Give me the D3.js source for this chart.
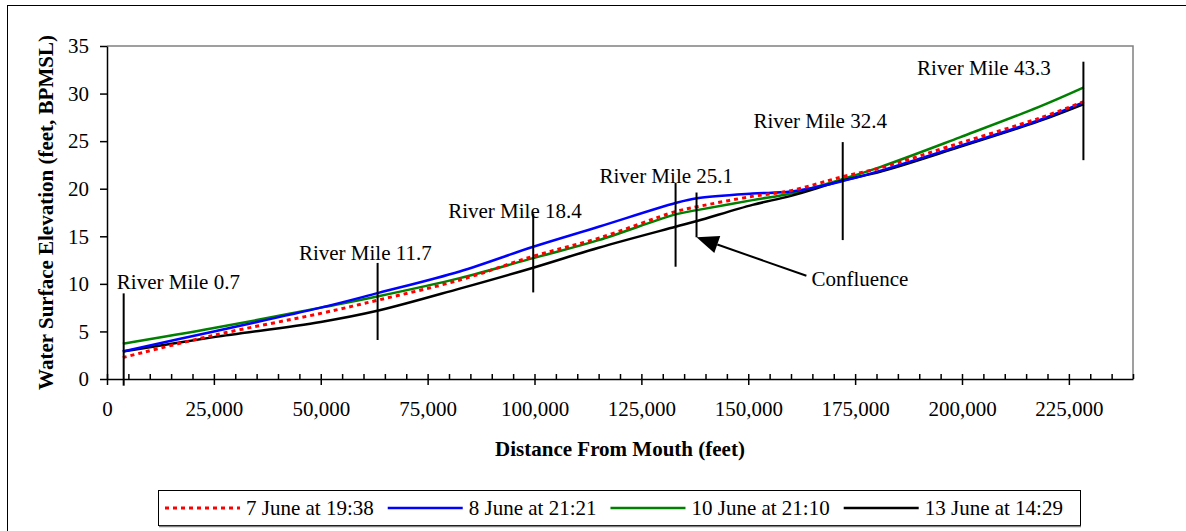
<!DOCTYPE html>
<html>
<head>
<meta charset="utf-8">
<script src="https://cdn.jsdelivr.net/npm/d3@7"></script>
<style>
  html, body { margin: 0; padding: 0; background: #fff; }
  svg { display: block; font-family: 'Liberation Serif', 'Times New Roman', serif; }
</style>
</head>
<body>
<div id="chart"></div>
<script>
// distance from mouth (feet) where the profiles were sampled
const distances = [3700, 25000, 50000, 63500, 82500, 99700, 115000, 133000, 138000, 151000, 160000, 172000, 181000, 199500, 218000, 228500];

const june7 = [2.25, 4.6, 6.9, 8.3, 10.4, 12.9, 14.8, 17.6, 18.1, 19.2, 19.8, 21.25, 22.2, 24.8, 27.4, 29.15];
const june8 = [2.9, 5.0, 7.5, 9.05, 11.3, 13.9, 16.0, 18.5, 19.0, 19.5, 19.7, 20.8, 21.9, 24.5, 27.2, 29.1];
const june10 = [3.7, 5.35, 7.5, 8.7, 10.6, 12.7, 14.6, 17.3, 17.75, 18.8, 19.5, 21.0, 22.3, 25.4, 28.6, 30.65];
const june13 = [2.9, 4.4, 6.0, 7.2, 9.5, 11.7, 13.8, 16.0, 16.6, 18.3, 19.25, 20.85, 21.8, 24.4, 27.1, 28.9];

const seriesNames = ['7 June at 19:38', '8 June at 21:21', '10 June at 21:10', '13 June at 14:29'];
const seriesValues = [june7, june8, june10, june13];
const seriesColors = ['#ff0000', '#0000ff', '#008000', '#000000'];

const xTicks = [0, 25000, 50000, 75000, 100000, 125000, 150000, 175000, 200000, 225000];
const yTicks = [0, 5, 10, 15, 20, 25, 30, 35];

// river mile marker lines: x, top, bottom (feet / elevation)
const markerLabels = ['River Mile 0.7', 'River Mile 11.7', 'River Mile 18.4', 'River Mile 25.1', 'River Mile 32.4', 'River Mile 43.3'];
const markerX = [3900, 63300, 99700, 133000, 172100, 228400];
const markerTop = [9.0, 12.2, 17.4, 20.6, 24.9, 33.35];
const markerBottom = [-0.7, 4.1, 9.1, 11.8, 14.6, 23.0];
const labelX = [2300, 44900, 79800, 115200, 151200, 189500];
const labelY = [9.45, 12.5, 16.95, 20.65, 26.35, 31.9];

// confluence annotation
const confluenceLine = [137900, 19.6, 14.9];
const confluenceArrowFrom = [163600, 10.85];
const confluenceText = [164800, 9.75];

const width = 1186, height = 531;
const margin = { top: 46, right: 53, bottom: 152, left: 107 };

const svg = d3.select('#chart').append('svg')
  .attr('width', width)
  .attr('height', height);

// outer frame (only top and left edges show in the crop)
svg.append('rect')
  .attr('x', 7.5).attr('y', 5.5)
  .attr('width', 1300).attr('height', 700)
  .attr('fill', 'none').attr('stroke', '#000').attr('stroke-width', 1);

const x = d3.scaleLinear().domain([0, 240000]).range([margin.left, width - margin.right]);
const y = d3.scaleLinear().domain([0, 35]).range([height - margin.bottom, margin.top]);

// plot area border (top/right gray)
svg.append('path')
  .attr('d', `M${x(0)},${y(35)}H${x(240000)}V${y(0)}`)
  .attr('fill', 'none').attr('stroke', '#808080').attr('stroke-width', 1.5);

// x axis: major ticks + minor ticks pointing inward
const gxMinor = svg.append('g')
  .attr('transform', `translate(0,${y(0)})`)
  .call(d3.axisBottom(x).tickValues(d3.range(0, 240001, 5000)).tickSizeInner(-5).tickSizeOuter(0).tickFormat(''));
gxMinor.select('.domain').remove();

const gx = svg.append('g')
  .attr('transform', `translate(0,${y(0)})`)
  .call(d3.axisBottom(x).tickValues(xTicks).tickSizeInner(6).tickSizeOuter(0).tickPadding(16).tickFormat(d3.format(',')));

const gy = svg.append('g')
  .attr('transform', `translate(${x(0)},0)`)
  .call(d3.axisLeft(y).tickValues(yTicks).tickSizeInner(7).tickSizeOuter(0).tickPadding(11));

[gx, gy, gxMinor].forEach(g => {
  g.selectAll('line').attr('stroke', '#000').attr('stroke-width', 1.5);
  g.selectAll('.domain').attr('stroke', '#000').attr('stroke-width', 1.5);
  g.selectAll('text').attr('font-family', 'Liberation Serif, serif').attr('font-size', 21).attr('fill', '#000');
});

// axis titles
svg.append('text')
  .attr('x', x(120000)).attr('y', 456)
  .attr('text-anchor', 'middle')
  .attr('font-size', 21).attr('font-weight', 'bold')
  .text('Distance From Mouth (feet)');

svg.append('text')
  .attr('transform', `translate(53,${y(17.5)}) rotate(-90)`)
  .attr('text-anchor', 'middle')
  .attr('font-size', 21).attr('font-weight', 'bold')
  .text('Water Surface Elevation (feet, BPMSL)');

// profiles
const line = d3.line()
  .x((d, i) => x(distances[i]))
  .y(d => y(d))
  .curve(d3.curveCatmullRom.alpha(0.5));

// draw order: green, black, blue, red on top
[2, 3, 1, 0].forEach(k => {
  svg.append('path')
    .datum(seriesValues[k])
    .attr('d', line)
    .attr('fill', 'none')
    .attr('stroke', seriesColors[k])
    .attr('stroke-width', k === 0 ? 3 : 2.5)
    .attr('stroke-dasharray', k === 0 ? '4,4' : null);
});

// river mile markers
const markers = svg.append('g');
markerX.forEach((mx, i) => {
  markers.append('line')
    .attr('x1', x(mx)).attr('x2', x(mx))
    .attr('y1', y(markerTop[i])).attr('y2', y(markerBottom[i]))
    .attr('stroke', '#000').attr('stroke-width', 2);
  markers.append('text')
    .attr('x', x(labelX[i])).attr('y', y(labelY[i]))
    .attr('font-size', 21)
    .text(markerLabels[i]);
});

// confluence
svg.append('line')
  .attr('x1', x(confluenceLine[0])).attr('x2', x(confluenceLine[0]))
  .attr('y1', y(confluenceLine[1])).attr('y2', y(confluenceLine[2]))
  .attr('stroke', '#000').attr('stroke-width', 2);

const tipX = x(confluenceLine[0]), tipY = y(confluenceLine[2]);
const fromX = x(confluenceArrowFrom[0]), fromY = y(confluenceArrowFrom[1]);
const ang = Math.atan2(fromY - tipY, fromX - tipX);
const headLen = 22, headHalf = 9;
const baseX = tipX + headLen * Math.cos(ang), baseY = tipY + headLen * Math.sin(ang);
svg.append('line')
  .attr('x1', fromX).attr('y1', fromY)
  .attr('x2', baseX).attr('y2', baseY)
  .attr('stroke', '#000').attr('stroke-width', 2);
svg.append('path')
  .attr('d', `M${tipX},${tipY}L${baseX - headHalf * Math.sin(ang)},${baseY + headHalf * Math.cos(ang)}L${baseX + headHalf * Math.sin(ang)},${baseY - headHalf * Math.cos(ang)}Z`)
  .attr('fill', '#000');
svg.append('text')
  .attr('x', x(confluenceText[0])).attr('y', y(confluenceText[1]))
  .attr('font-size', 21)
  .text('Confluence');

// legend
const legend = svg.append('g');
legend.append('rect')
  .attr('x', 158.5).attr('y', 490.5)
  .attr('width', 922).attr('height', 35)
  .attr('fill', '#fff').attr('stroke', '#000').attr('stroke-width', 1);
legend.append('line')
  .attr('x1', 159).attr('x2', 1081).attr('y1', 526.5).attr('y2', 526.5)
  .attr('stroke', '#808080').attr('stroke-width', 1.5);

let cx = 165;
const ly = 508;
seriesNames.forEach((name, k) => {
  legend.append('line')
    .attr('x1', cx).attr('x2', cx + 75)
    .attr('y1', ly).attr('y2', ly)
    .attr('stroke', seriesColors[k])
    .attr('stroke-width', k === 0 ? 3 : 2.5)
    .attr('stroke-dasharray', k === 0 ? '4,4' : null);
  cx += 81;
  const t = legend.append('text')
    .attr('x', cx).attr('y', 515)
    .attr('font-size', 21)
    .text(name);
  cx += t.node().getComputedTextLength() + 14;
});
</script>
</body>
</html>
